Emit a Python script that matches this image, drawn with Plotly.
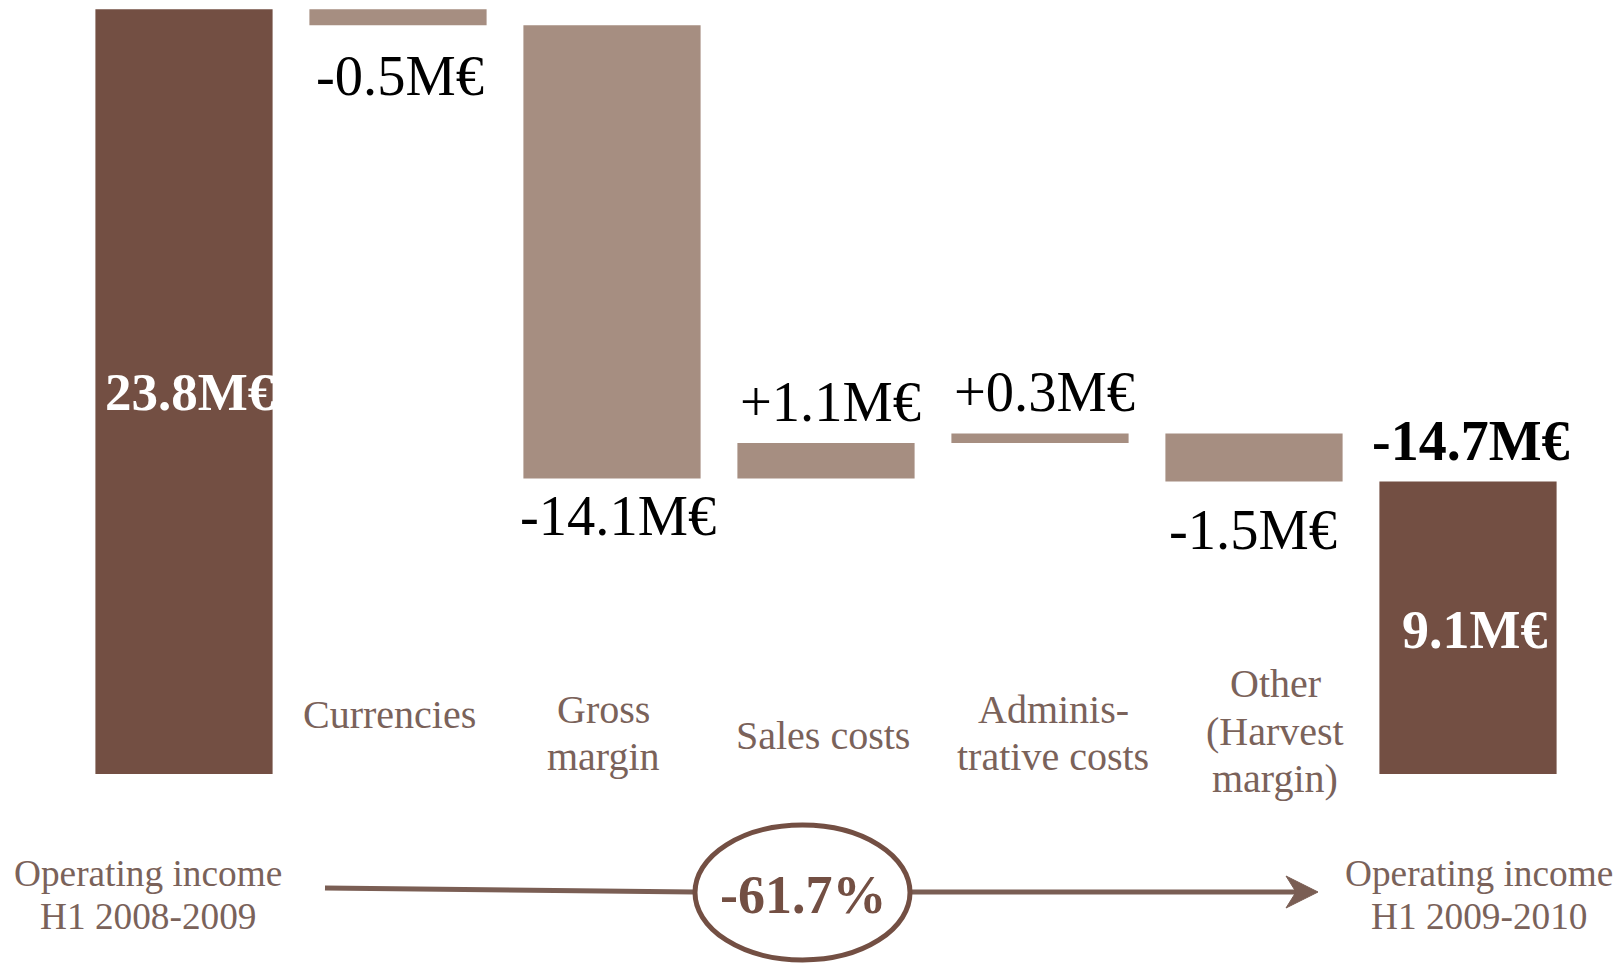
import plotly.graph_objects as go

# ---- data ----
categories = ["Operating income H1 2008-2009", "Currencies", "Gross margin", "Sales costs",
              "Administrative costs", "Other (Harvest margin)", "Operating income H1 2009-2010"]
measures = ["absolute", "relative", "relative", "relative", "relative", "relative", "total"]
values = [23.8, -0.5, -14.1, 1.1, 0.3, -1.5, None]
value_labels = ["23.8M€", "-0.5M€", "-14.1M€", "+1.1M€", "+0.3M€", "-1.5M€", "9.1M€"]
change_label = "-14.7M€"
pct_label = "-61.7%"
axis_labels = ["Currencies", "Gross<br>margin", "Sales costs", "Adminis-<br>trative costs",
               "Other<br>(Harvest<br>margin)"]
start_label = "Operating income<br>H1 2008-2009"
end_label = "Operating income<br>H1 2009-2010"

DARK = "#734F43"
LIGHT = "#A68E81"
GREY = "#7A625A"
FONT = "Liberation Serif, Times New Roman, serif"

# the page body has an 8px margin; work in window pixels and convert
OFF = 8
W, H = 1623 - OFF, 964 - OFF


def px(x):
    return (x - OFF) / W


def py(y):
    return 1 - (y - OFF) / H


fig = go.Figure(go.Waterfall(
    x=categories, y=values, measure=measures, width=0.828,
    increasing=dict(marker=dict(color=LIGHT, line=dict(width=0))),
    decreasing=dict(marker=dict(color=LIGHT, line=dict(width=0))),
    totals=dict(marker=dict(color=DARK, line=dict(width=0))),
    connector=dict(visible=False),
    hoverinfo="skip", textinfo="none",
))

# running totals
ends = []
run = 0.0
for m, v in zip(measures, values):
    if m == "absolute":
        run = v
    elif m == "relative":
        run += v
    ends.append(run)
starts = [0.0] + ends[:-1]
starts[-1] = 0.0

ann = []
# value labels: (position, yshift, xshift, size)
place = [("mid", 0, 5, 53), ("below", -51, 2, 56.5), ("below", -38, 6, 56.5), ("above", 41, 4, 56.5),
         ("above", 41, 4, 56.5), ("below", -48, -1, 56.5), ("mid", -2, 6, 54)]
for i, (lab, (pos, ys, xs, sz)) in enumerate(zip(value_labels, place)):
    lo, hi = min(starts[i], ends[i]), max(starts[i], ends[i])
    if pos == "mid":
        y = (lo + hi) / 2
        font = dict(family=FONT, size=sz, color="white")
        text = "<b>" + lab + "</b>"
    else:
        y = lo if pos == "below" else hi
        font = dict(family=FONT, size=sz, color="black")
        text = lab
    ann.append(dict(x=categories[i], y=y, xref="x", yref="y", text=text, showarrow=False,
                    font=font, yshift=ys, xshift=xs, xanchor="center", yanchor="middle"))

# change label above the final bar
ann.append(dict(x=categories[-1], y=ends[-1], xref="x", yref="y", text="<b>" + change_label + "</b>",
                showarrow=False, font=dict(family=FONT, size=56, color="black"),
                yshift=41, xshift=3, xanchor="center", yanchor="middle"))


def lines_of(text, cy, spacing):
    parts = text.split("<br>")
    n = len(parts)
    return [(p, cy + (k - (n - 1) / 2) * spacing) for k, p in enumerate(parts)]


# category labels (in the middle band)
lab_pos = [(714, -9), (733, -9), (735, -3), (733, 13), (731, 21)]
for i, (lab, (ly, xs)) in enumerate(zip(axis_labels, lab_pos)):
    for part, yy in lines_of(lab, ly, 47.6):
        ann.append(dict(x=categories[i + 1], y=py(yy), xref="x", yref="paper", text=part,
                        showarrow=False, font=dict(family=FONT, size=40, color=GREY),
                        xshift=xs, xanchor="center", yanchor="middle", align="center"))

# bottom labels
for lab, lx in [(start_label, 148), (end_label, 1479)]:
    for part, yy in lines_of(lab, 895, 43.5):
        ann.append(dict(x=px(lx), y=py(yy), xref="paper", yref="paper", text=part, showarrow=False,
                        font=dict(family=FONT, size=37.3, color=GREY), xanchor="center",
                        yanchor="middle", align="center"))

ann.append(dict(x=px(803), y=py(895), xref="paper", yref="paper", text="<b>" + pct_label + "</b>",
                showarrow=False, font=dict(family=FONT, size=54, color=DARK),
                xanchor="center", yanchor="middle"))

LINE = "#7A5E54"
shapes = [
    dict(type="line", xref="paper", yref="paper", x0=px(325), y0=py(888), x1=px(694), y1=py(892),
         line=dict(color=LINE, width=5)),
    dict(type="line", xref="paper", yref="paper", x0=px(911), y0=py(892), x1=px(1300), y1=py(892),
         line=dict(color=LINE, width=5)),
    dict(type="path", xref="paper", yref="paper",
         path=f"M {px(1318)} {py(892)} L {px(1286)} {py(876)} L {px(1296)} {py(892)} "
              f"L {px(1286)} {py(908)} Z",
         fillcolor=LINE, line=dict(color=LINE, width=1)),
    dict(type="circle", xref="paper", yref="paper", x0=px(695), x1=px(910), y0=py(960), y1=py(825),
         line=dict(color=DARK, width=5), fillcolor="white"),
]

step = 214.0
x0 = -(184.0 - OFF) / step
yscale = 32.13
zero_px = 774 - OFF
fig.update_layout(
    width=W, height=H, margin=dict(l=0, r=0, t=0, b=0),
    paper_bgcolor="white", plot_bgcolor="white",
    showlegend=False,
    xaxis=dict(range=[x0, x0 + W / step], showticklabels=False, showgrid=False, zeroline=False,
               showline=False, fixedrange=True),
    yaxis=dict(range=[-(H - zero_px) / yscale, zero_px / yscale], showticklabels=False, showgrid=False,
               zeroline=False, showline=False, fixedrange=True),
    annotations=ann, shapes=shapes,
    font=dict(family=FONT),
)

fig.write_html("out.html")
